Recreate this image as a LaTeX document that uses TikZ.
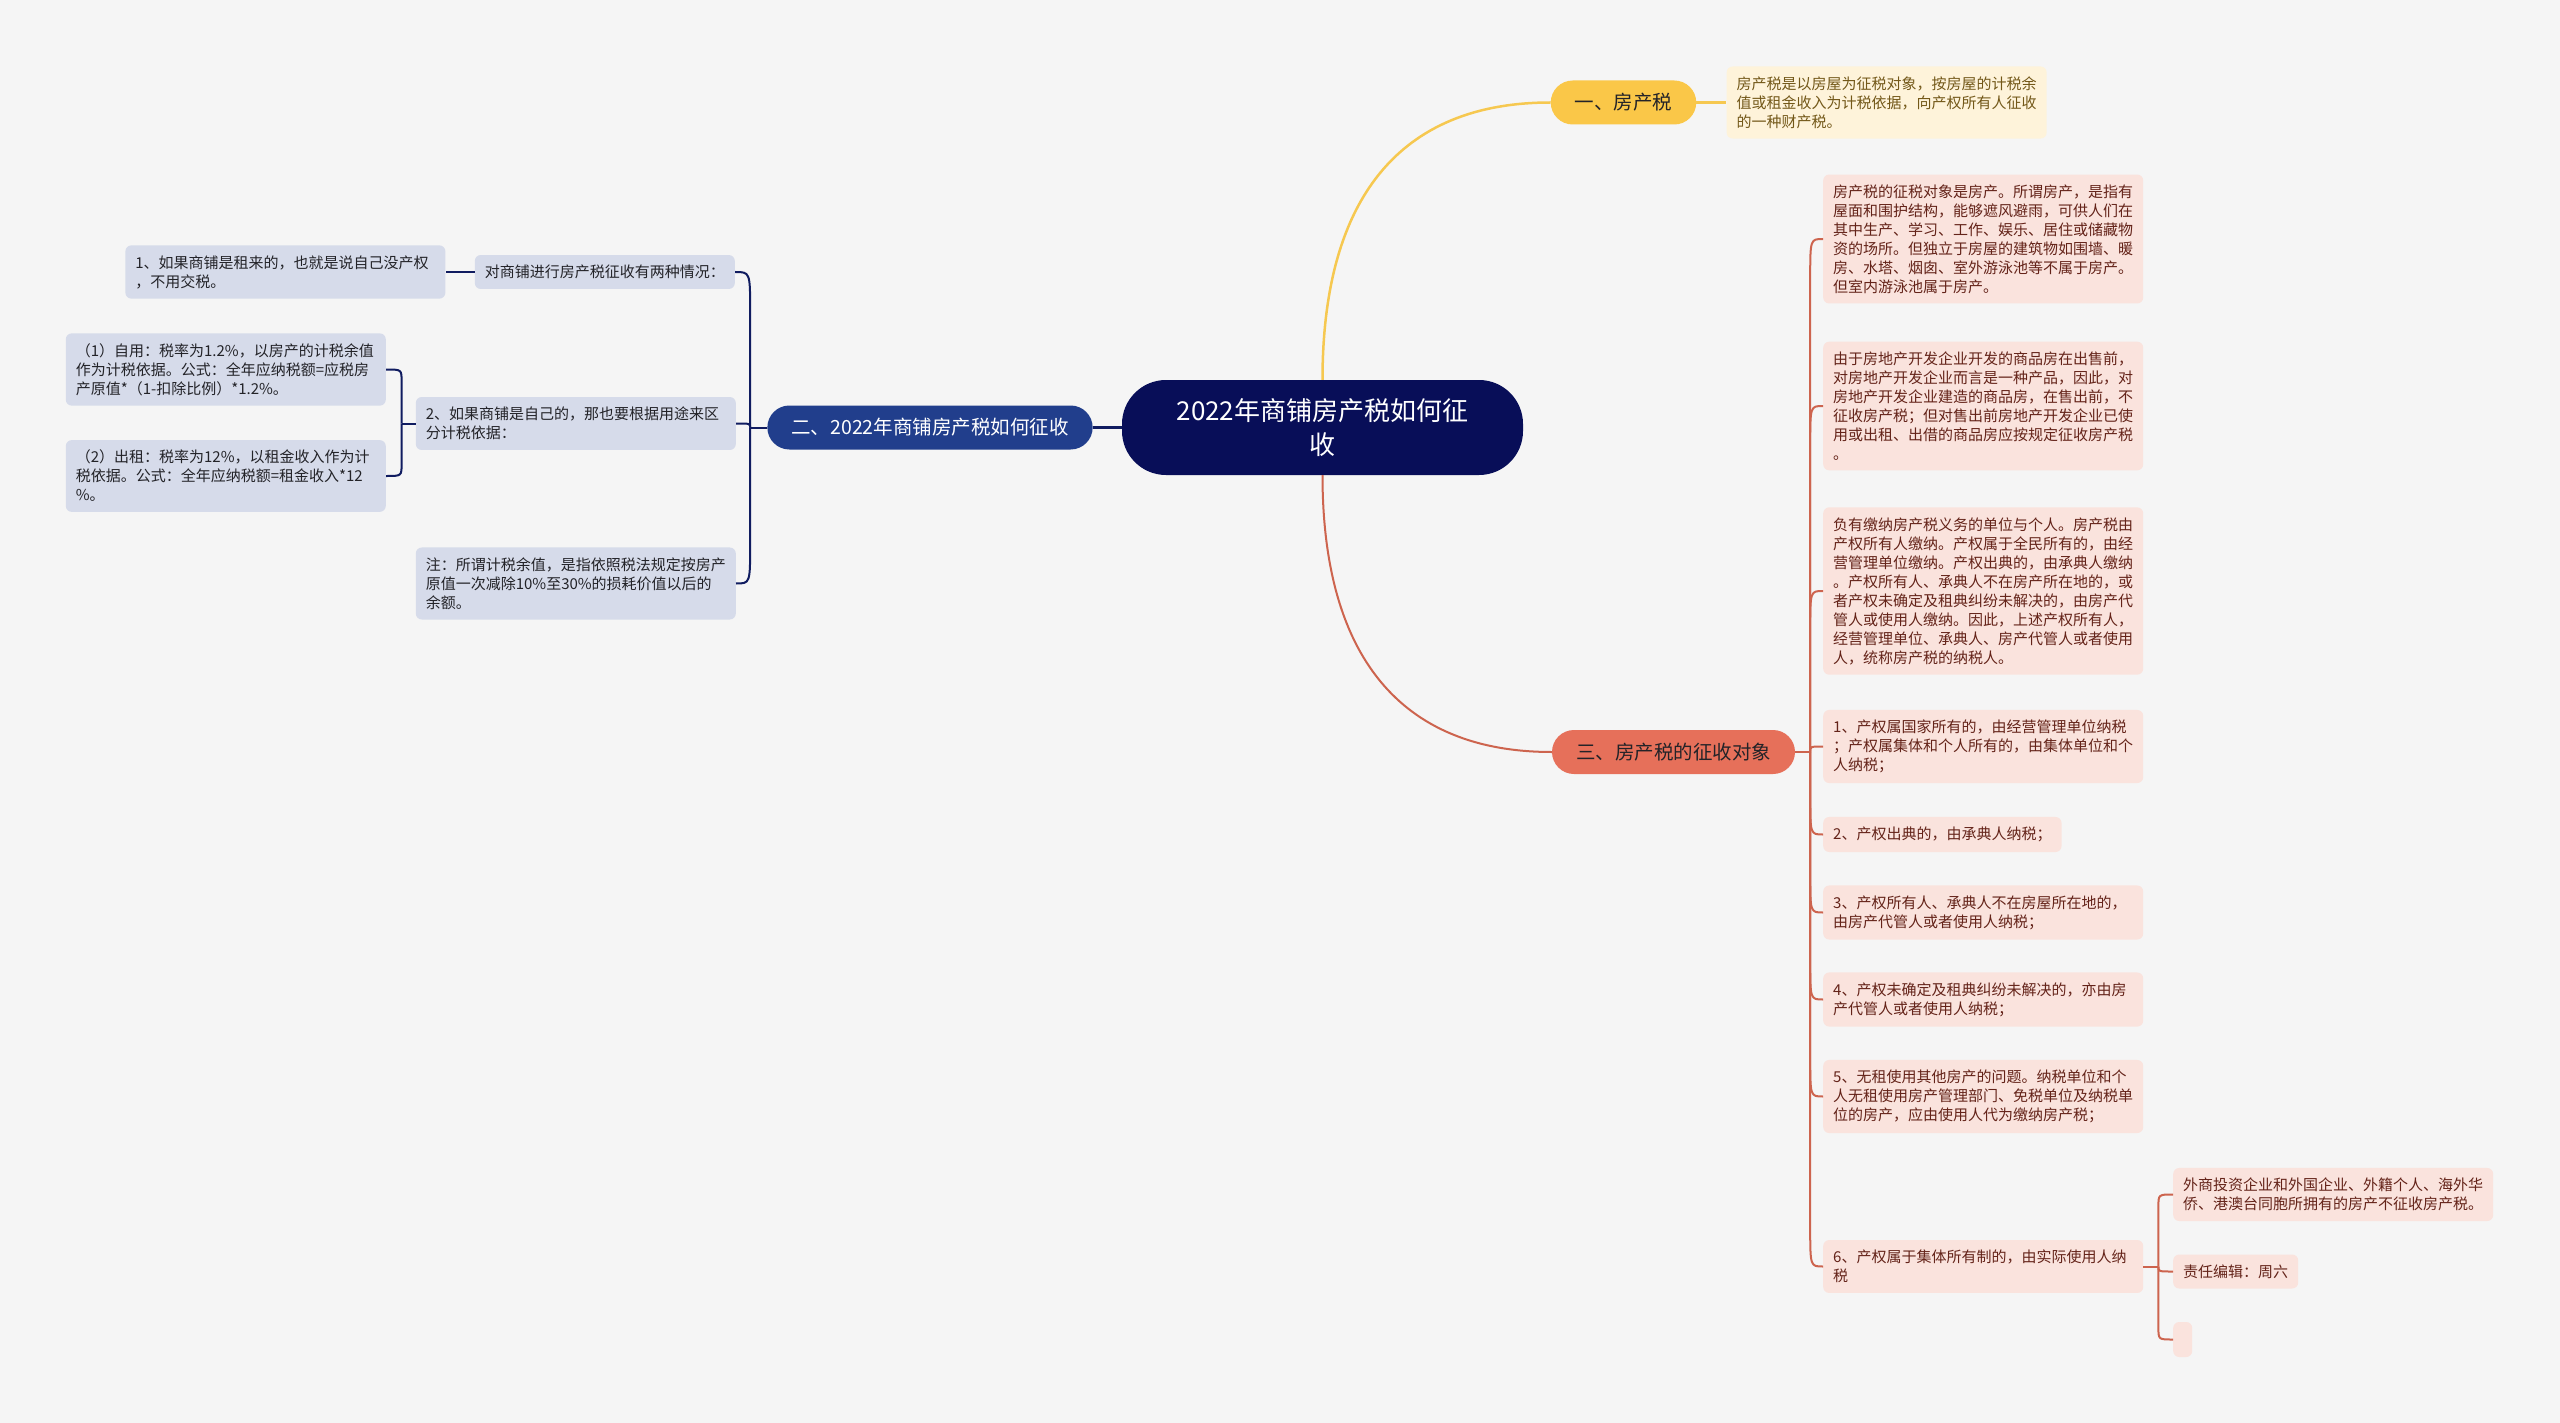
\documentclass[tikz,border=0pt]{standalone}
\usepackage{fontspec}
\setmainfont{Noto Sans CJK SC}
\usetikzlibrary{positioning,calc}
\definecolor{bggray}{RGB}{245,245,245}
\definecolor{rootnavy}{RGB}{8,14,88}
\definecolor{branchblue}{RGB}{33,62,140}
\definecolor{branchyellow}{RGB}{250,199,72}
\definecolor{branchred}{RGB}{230,112,90}
\definecolor{leafgray}{RGB}{214,219,234}
\definecolor{leafpink}{RGB}{250,227,221}
\definecolor{leafyellow}{RGB}{254,243,218}
\definecolor{inkdark}{RGB}{35,35,40}
\definecolor{inkred}{RGB}{100,35,25}
\definecolor{inkbrown}{RGB}{115,88,25}
\definecolor{linknavy}{RGB}{16,28,96}
\definecolor{linkred}{RGB}{205,100,78}
\definecolor{linkyellow}{RGB}{246,200,80}
\tikzset{
  rootbox/.style={
    rounded corners=44pt,
    fill=rootnavy,
    text=white,
    align=center,
    inner sep=0pt,
    minimum width=401pt,
    minimum height=95pt,
    font=\fontsize{26}{34}\selectfont
  },
  branch/.style={
    rounded corners=22pt,
    inner xsep=24pt,
    inner ysep=0pt,
    minimum height=44pt,
    font=\fontsize{19.5}{24}\selectfont
  },
  bluebranch/.style={branch, fill=branchblue, text=white},
  yellowbranch/.style={branch, fill=branchyellow, text=inkdark},
  redbranch/.style={branch, fill=branchred, text=inkdark},
  leaf/.style={
    rounded corners=6pt,
    align=left,
    inner xsep=10pt,
    inner ysep=10pt,
    font=\fontsize{15}{19}\selectfont
  },
  wide/.style={text width=300pt},
  grayleaf/.style={leaf, fill=leafgray, text=inkdark},
  pinkleaf/.style={leaf, fill=leafpink, text=inkred},
  yellowleaf/.style={leaf, fill=leafyellow, text=inkbrown},
  navylink/.style={draw=linknavy, line width=2pt},
  redlink/.style={draw=linkred, line width=2pt},
  yellowlink/.style={draw=linkyellow, line width=2.5pt}
}
\begin{document}
\begin{tikzpicture}[x=1pt,y=1pt]
    \fill[bggray] (0,0) rectangle (2560,-1423);
    \useasboundingbox (0,0) rectangle (2560,-1423);
    % centre and main branches
    \node[rootbox] (root) at (1322.5,-427.5) {2022年商铺房产税如何征\\收};
    \node[yellowbranch] (yi) at (1623.5,-102.5) {一、房产税};
    \node[yellowleaf, wide, right=30pt of yi] (ydef) {房产税是以房屋为征税对象，按房屋的计税余\\值或租金收入为计税依据，向产权所有人征收\\的一种财产税。};
    \node[bluebranch] (er) at (930,-427.5) {二、2022年商铺房产税如何征收};
    \node[redbranch] (san) at (1673.5,-752) {三、房产税的征收对象};
    % left side
    \node[grayleaf, anchor=east] (twocase) at (735,-272) {对商铺进行房产税征收有两种情况：};
    \node[grayleaf, wide, left=29pt of twocase] (rented) {1、如果商铺是租来的，也就是说自己没产权\\，不用交税。};
    \node[grayleaf, wide, anchor=east] (owned) at (736,-423.5) {2、如果商铺是自己的，那也要根据用途来区\\分计税依据：};
    \node[grayleaf, wide, anchor=east] (selfuse) at (386,-369.5) {（1）自用：税率为1.2\%，以房产的计税余值\\作为计税依据。公式：全年应纳税额=应税房\\产原值*（1-扣除比例）*1.2\%。};
    \node[grayleaf, wide, anchor=east] (letout) at (386,-476) {（2）出租：税率为12\%，以租金收入作为计\\税依据。公式：全年应纳税额=租金收入*12\\\%。};
    \node[grayleaf, wide, anchor=east] (note) at (736,-583.5) {注：所谓计税余值，是指依照税法规定按房产\\原值一次减除10\%至30\%的损耗价值以后的\\余额。};
    % right side
    \node[pinkleaf, wide, anchor=west] (object) at (1823,-239) {房产税的征税对象是房产。所谓房产，是指有\\屋面和围护结构，能够遮风避雨，可供人们在\\其中生产、学习、工作、娱乐、居住或储藏物\\资的场所。但独立于房屋的建筑物如围墙、暖\\房、水塔、烟囱、室外游泳池等不属于房产。\\但室内游泳池属于房产。};
    \node[pinkleaf, wide, anchor=west] (devhouse) at (1823,-406) {由于房地产开发企业开发的商品房在出售前，\\对房地产开发企业而言是一种产品，因此，对\\房地产开发企业建造的商品房，在售出前，不\\征收房产税；但对售出前房地产开发企业已使\\用或出租、出借的商品房应按规定征收房产税\\。};
    \node[pinkleaf, wide, anchor=west] (payer) at (1823,-591) {负有缴纳房产税义务的单位与个人。房产税由\\产权所有人缴纳。产权属于全民所有的，由经\\营管理单位缴纳。产权出典的，由承典人缴纳\\。产权所有人、承典人不在房产所在地的，或\\者产权未确定及租典纠纷未解决的，由房产代\\管人或使用人缴纳。因此，上述产权所有人，\\经营管理单位、承典人、房产代管人或者使用\\人，统称房产税的纳税人。};
    \node[pinkleaf, wide, anchor=west] (state) at (1823,-746.5) {1、产权属国家所有的，由经营管理单位纳税\\；产权属集体和个人所有的，由集体单位和个\\人纳税；};
    \node[pinkleaf, anchor=west] (pawn) at (1823,-834.5) {2、产权出典的，由承典人纳税；};
    \node[pinkleaf, wide, anchor=west] (absent) at (1823,-912.5) {3、产权所有人、承典人不在房屋所在地的，\\由房产代管人或者使用人纳税；};
    \node[pinkleaf, wide, anchor=west] (dispute) at (1823,-999.5) {4、产权未确定及租典纠纷未解决的，亦由房\\产代管人或者使用人纳税；};
    \node[pinkleaf, wide, anchor=west] (rentfree) at (1823,-1096.5) {5、无租使用其他房产的问题。纳税单位和个\\人无租使用房产管理部门、免税单位及纳税单\\位的房产，应由使用人代为缴纳房产税；};
    \node[pinkleaf, wide, anchor=west] (collective) at (1823,-1266.5) {6、产权属于集体所有制的，由实际使用人纳\\税};
    \node[pinkleaf, wide, anchor=west] (foreign) at (2173,-1194.5) {外商投资企业和外国企业、外籍个人、海外华\\侨、港澳台同胞所拥有的房产不征收房产税。};
    \node[pinkleaf, anchor=west] (editor) at (2173,-1271.5) {责任编辑：周六};
    \node[pinkleaf, anchor=west, inner xsep=9.5pt, minimum height=35pt] (blank) at (2173,-1339.5) {};
    % connectors
    \coordinate (rs) at ([xshift=15pt]san.east);
    \coordinate (ls) at ([xshift=-17pt]er.west);
    \coordinate (ms) at ([xshift=-14pt]owned.west);
    \coordinate (ss) at ([xshift=15pt]collective.east);
    \draw[yellowlink] (root.north) .. controls +(0,180) and +(-152,0) .. (yi.west);
    \draw[yellowlink] (yi.east) -- (ydef.west);
    \draw[redlink] (root.south) .. controls +(0,-180) and +(-152,0) .. (san.west);
    \draw[navylink, line width=3pt] (root.west) -- (er.east);
    \draw[navylink] (er.west) -- (ls);
    \foreach \c/\s in {twocase/-1,note/1}
      \draw[navylink] (ls) -- ($(ls |- \c.east)+(0,\s*40)$) .. controls (ls |- \c.east) .. (\c.east);
    \draw[navylink] (ls) .. controls (ls |- owned.east) .. (owned.east);
    \draw[navylink] (twocase.west) -- (rented.east);
    \draw[navylink] (owned.west) -- (ms);
    \foreach \c/\s in {selfuse/-1,letout/1}
      \draw[navylink] (ms) -- ($(ms |- \c.east)+(0,\s*12)$) .. controls (ms |- \c.east) .. (\c.east);
    \draw[redlink] (san.east) -- (rs);
    \foreach \c/\s in {object/-1,devhouse/-1,payer/-1,pawn/1,absent/1,dispute/1,rentfree/1,collective/1}
      \draw[redlink] (rs) -- ($(rs |- \c.west)+(0,\s*40)$) .. controls (rs |- \c.west) .. (\c.west);
    \draw[redlink] (rs) .. controls (rs |- state.west) .. (state.west);
    \draw[redlink] (collective.east) -- (ss);
    \foreach \c/\s in {foreign/-1,blank/1}
      \draw[redlink] (ss) -- ($(ss |- \c.west)+(0,\s*12)$) .. controls (ss |- \c.west) .. (\c.west);
    \draw[redlink] (ss) .. controls (ss |- editor.west) .. (editor.west);
\end{tikzpicture}
\end{document}
